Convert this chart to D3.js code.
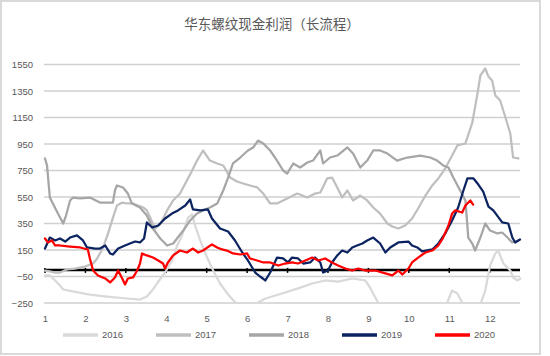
<!DOCTYPE html>
<html><head><meta charset="utf-8">
<script src="https://cdn.jsdelivr.net/npm/d3@7"></script>
<style>body{margin:0;background:#fff}svg{display:block}</style>
</head><body><svg id="c" width="550" height="356"></svg>
<script>
const chartTitle = "华东螺纹现金利润（长流程）";
const monthTicks = [1,2,3,4,5,6,7,8,9,10,11,12];
const yTicks = [-250,-50,150,350,550,750,950,1150,1350,1550];
const seriesNames = ["2016","2017","2018","2019","2020"];
const seriesColors = ["#d9d9d9","#bfbfbf","#a6a6a6","#0b2461","#ff0000"];

const m2016 = [1.00,1.12,1.25,1.37,1.45,1.69,2.11,2.53,3.03,3.35,3.52,3.65,3.77,3.97,4.14,4.27,4.39,4.54,4.64,4.71,4.84,5.01,5.16,5.33,5.53,5.73,5.93,6.12,6.27,6.45,6.62,6.94,7.26,7.61,7.93,8.25,8.60,8.92,9.04,9.17,9.34,9.79,10.28,10.78,10.95,11.07,11.20,11.32,11.52,11.77,11.89,12.01,12.14,12.21,12.34,12.51,12.58,12.68,12.76];
const v2016 = [-42,-42,-80,-118,-148,-163,-186,-201,-216,-224,-201,-156,-103,-20,71,184,260,395,418,335,222,93,-5,-103,-186,-254,-344,-307,-246,-216,-201,-171,-140,-103,-80,-88,-65,-80,-133,-209,-307,-367,-367,-307,-246,-156,-178,-246,-344,-261,-156,33,124,146,48,-5,-57,-80,-65];

const m2017 = [1.00,1.12,1.25,1.37,1.54,1.74,1.99,2.19,2.29,2.44,2.56,2.66,2.78,2.91,3.03,3.18,3.30,3.43,3.52,3.60,3.72,3.85,4.02,4.17,4.34,4.51,4.64,4.76,4.91,5.08,5.26,5.41,5.58,5.75,5.90,6.07,6.25,6.40,6.57,6.74,6.99,7.24,7.49,7.68,7.81,7.98,8.10,8.23,8.35,8.48,8.62,8.80,8.97,9.12,9.29,9.47,9.59,9.74,9.91,10.08,10.23,10.41,10.58,10.73,10.90,11.07,11.20,11.40,11.57,11.69,11.77,11.89,11.97,12.06,12.14,12.26,12.39,12.51,12.58,12.71];
const v2017 = [-5,-12,-20,-20,3,10,25,48,86,169,275,373,486,508,501,501,486,471,449,395,312,343,449,524,576,675,750,825,901,825,803,788,697,667,652,637,622,576,501,501,539,576,546,576,584,690,697,622,546,599,524,561,524,471,425,350,327,312,335,388,463,561,637,690,765,863,939,954,1112,1316,1467,1520,1459,1429,1316,1278,1150,1029,848,841];

const m2018 = [1.00,1.05,1.12,1.22,1.32,1.45,1.52,1.62,1.69,1.87,2.11,2.36,2.68,2.73,2.78,2.93,3.05,3.15,3.35,3.52,3.67,3.85,4.02,4.17,4.42,4.59,4.76,4.96,5.08,5.26,5.41,5.53,5.65,5.83,6.02,6.15,6.27,6.40,6.57,6.74,6.89,6.99,7.14,7.31,7.49,7.63,7.81,7.88,8.05,8.23,8.48,8.62,8.80,8.97,9.12,9.29,9.47,9.71,9.96,10.28,10.53,10.70,10.85,10.98,11.10,11.27,11.40,11.47,11.57,11.64,11.77,11.89,12.01,12.19,12.31,12.44,12.56,12.71];
const v2018 = [841,788,546,486,425,350,410,524,546,539,546,508,508,599,637,622,576,501,471,410,312,237,184,199,297,373,425,456,471,501,599,697,803,848,901,924,976,954,901,825,750,727,803,773,810,825,901,803,848,863,924,878,773,825,901,901,878,825,848,863,848,825,788,773,697,599,524,244,199,146,244,350,297,275,282,244,207,222];

const m2019 = [1.00,1.12,1.25,1.37,1.50,1.62,1.79,1.94,2.04,2.24,2.36,2.49,2.61,2.68,2.81,2.98,3.10,3.23,3.35,3.45,3.52,3.65,3.80,3.97,4.14,4.29,4.47,4.59,4.66,4.84,5.03,5.13,5.33,5.53,5.70,5.88,6.02,6.20,6.32,6.45,6.57,6.74,6.89,7.01,7.11,7.26,7.39,7.56,7.68,7.81,7.88,8.00,8.10,8.23,8.35,8.48,8.60,8.72,8.85,8.97,9.12,9.29,9.42,9.54,9.74,9.99,10.08,10.21,10.33,10.58,10.73,10.90,11.07,11.22,11.35,11.45,11.60,11.72,11.84,11.97,12.09,12.31,12.46,12.56,12.63,12.75];
const v2019 = [161,244,222,237,214,244,260,222,169,161,161,184,124,116,161,184,199,214,207,237,358,320,335,388,425,449,486,531,456,449,456,388,312,290,222,131,71,-20,-50,-80,-20,93,86,56,93,86,48,56,93,56,-20,-5,56,109,146,131,169,184,199,222,244,199,131,169,207,214,184,169,139,154,199,275,373,471,599,690,690,644,591,478,449,358,350,244,207,229];

const m2020 = [1.00,1.07,1.17,1.25,1.37,1.62,1.87,2.06,2.11,2.19,2.31,2.49,2.61,2.73,2.81,2.91,2.98,3.05,3.18,3.28,3.35,3.40,3.52,3.67,3.80,3.92,3.97,4.04,4.17,4.34,4.51,4.66,4.79,4.91,5.13,5.26,5.38,5.50,5.65,5.83,6.00,6.07,6.25,6.40,6.57,6.77,6.94,7.11,7.26,7.44,7.61,7.76,7.93,8.10,8.25,8.43,8.60,8.75,8.92,9.17,9.42,9.59,9.74,9.84,9.99,10.08,10.23,10.41,10.58,10.73,10.85,10.98,11.07,11.15,11.32,11.40,11.52,11.59];
const v2020 = [237,207,222,184,184,176,169,154,86,-5,-42,-65,-95,-57,-5,-65,-110,-65,-57,-5,48,124,109,93,71,48,10,56,109,146,131,161,131,146,192,169,154,146,124,116,124,86,71,56,56,33,48,56,48,71,93,71,86,56,33,10,-5,10,-5,-5,-27,-42,-5,-35,10,56,93,131,146,184,244,335,425,449,433,486,524,493];

const seriesMonths = [m2016,m2017,m2018,m2019,m2020];
const seriesValues = [v2016,v2017,v2018,v2019,v2020];

const svg = d3.select("#c");
const W = 550, H = 356;
const x = d3.scaleLinear().domain([1, 12.75]).range([45, 520]);
const y = d3.scaleLinear().domain([-250, 1550]).range([303, 64.5]);
const textCol = "#595959";
const font = "'Liberation Sans', Arial, sans-serif";

svg.append("rect").attr("x",0).attr("y",0).attr("width",W).attr("height",H).attr("fill","#fff");
svg.append("rect").attr("x",1).attr("y",1).attr("width",539).attr("height",353)
  .attr("fill","none").attr("stroke","#d9d9d9").attr("stroke-width",2);

svg.append("text").attr("x",272).attr("y",29).attr("text-anchor","middle")
  .attr("font-family","'Noto Sans CJK SC', sans-serif").attr("font-size",13.5)
  .attr("fill",textCol).text(chartTitle);

// gridlines as one path
const gp = d3.path();
yTicks.forEach(t => { gp.moveTo(44, y(t)); gp.lineTo(520, y(t)); });
svg.append("path").attr("d", gp.toString()).attr("fill","none")
  .attr("stroke","#d0d0d0").attr("stroke-width",1.5);

// y labels
const yAxis = d3.axisLeft(y).tickValues(yTicks).tickFormat(d3.format("d")).tickSize(0).tickPadding(11);
const gy = svg.append("g").attr("transform","translate(44,0)").call(yAxis);
gy.select(".domain").remove();
gy.selectAll(".tick line").remove();
gy.selectAll(".tick text").attr("font-family",font).attr("font-size",9.5).attr("fill",textCol);

// month labels
const xAxis = d3.axisBottom(x).tickValues(monthTicks).tickSize(0).tickPadding(0).tickFormat(d3.format("d"));
const gx = svg.append("g").attr("transform","translate(0,315)").call(xAxis);
gx.select(".domain").remove();
gx.selectAll(".tick line").remove();
gx.selectAll(".tick text").attr("font-family",font).attr("font-size",9.5).attr("fill",textCol).attr("dy","0.71em");

// zero axis line with ticks
const y0 = y(0);
svg.append("line").attr("x1",44).attr("x2",520).attr("y1",y0).attr("y2",y0)
  .attr("stroke","#000").attr("stroke-width",2.5);
svg.append("g").selectAll("line").data(monthTicks).join("line")
  .attr("x1",d=>x(d)).attr("x2",d=>x(d)).attr("y1",y0-2).attr("y2",y0+3)
  .attr("stroke","#000").attr("stroke-width",1.5);

// series
svg.append("clipPath").attr("id","clip").append("rect")
  .attr("x",40).attr("y",40).attr("width",490).attr("height",y(-250)-40);
const line = d3.line().x(d=>x(d[0])).y(d=>y(d[1]));
const gs = svg.append("g").attr("clip-path","url(#clip)");
seriesNames.forEach((name,i)=>{
  const pts = seriesMonths[i].map((m,j)=>[m, seriesValues[i][j]]);
  gs.append("path").datum(pts).attr("d",line).attr("fill","none")
    .attr("stroke",seriesColors[i]).attr("stroke-width",2.25)
    .attr("stroke-linejoin","round").attr("stroke-linecap","round");
});

// legend
const lg = svg.append("g");
seriesNames.forEach((name,i)=>{
  const lx = 63 + i*93;
  lg.append("line").attr("x1",lx).attr("x2",lx+35).attr("y1",335).attr("y2",335)
    .attr("stroke",seriesColors[i]).attr("stroke-width",3.5);
  lg.append("text").attr("x",lx+39).attr("y",335).attr("dy","0.35em")
    .attr("font-family",font).attr("font-size",9.5).attr("fill",textCol).text(name);
});
</script></body></html>
